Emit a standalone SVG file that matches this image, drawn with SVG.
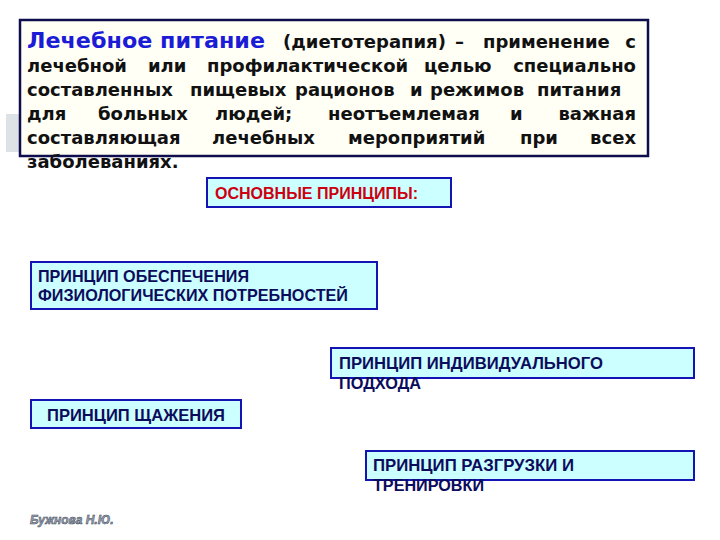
<svg xmlns="http://www.w3.org/2000/svg" width="720" height="540" viewBox="0 0 720 540">
<style>
.body{font-family:"DejaVu Sans",Verdana,sans-serif;font-weight:bold;font-size:18px;fill:#111111}
.title{font-family:"DejaVu Sans",Verdana,sans-serif;font-weight:bold;font-size:21px;fill:#1c1cd6}
.pbox{fill:#ccffff;stroke:#1414b4;stroke-width:2}
.ptext{font-family:"Liberation Sans",Arial,sans-serif;font-weight:bold;font-size:16.5px;fill:#0c0c5c}
.head{font-family:"Liberation Sans",Arial,sans-serif;font-weight:bold;font-size:16px;fill:#cc0010}
.author{font-family:"Liberation Sans",Arial,sans-serif;font-style:italic;font-weight:bold;font-size:12px;fill:#9aa4b4;stroke:#3a4454;stroke-width:0.5}
</style>
<rect width="720" height="540" fill="#ffffff"/>
<rect x="6" y="114" width="15" height="38" fill="#dde2e6"/>
<g id="definition">
<rect x="20" y="20" width="628" height="136" fill="#fffff6" stroke="#0e0e4e" stroke-width="2.5"/>
<text class="title" x="27" y="48" textLength="238" lengthAdjust="spacingAndGlyphs">Лечебное питание</text>
<text class="body" y="48"><tspan x="283">(диетотерапия)</tspan><tspan x="455">–</tspan><tspan x="483">применение</tspan><tspan x="636" text-anchor="end">с</tspan></text>
<text class="body" y="72"><tspan x="27">лечебной</tspan><tspan x="148">или</tspan><tspan x="207">профилактической</tspan><tspan x="424">целью</tspan><tspan x="636" text-anchor="end">специально</tspan></text>
<text class="body" y="96"><tspan x="27">составленных</tspan><tspan x="190">пищевых</tspan><tspan x="295">рационов</tspan><tspan x="410">и</tspan><tspan x="430">режимов</tspan><tspan x="537">питания</tspan></text>
<text class="body" y="120"><tspan x="27">для</tspan><tspan x="98">больных</tspan><tspan x="215">людей;</tspan><tspan x="328">неотъемлемая</tspan><tspan x="510">и</tspan><tspan x="636" text-anchor="end">важная</tspan></text>
<text class="body" y="144"><tspan x="27">составляющая</tspan><tspan x="212">лечебных</tspan><tspan x="348">мероприятий</tspan><tspan x="520">при</tspan><tspan x="636" text-anchor="end">всех</tspan></text>
<text class="body" x="27" y="168">заболеваниях.</text>
</g>
<g id="principles-head">
<rect class="pbox" x="207" y="178" width="244" height="29"/>
<text class="head" x="215" y="199" textLength="203" lengthAdjust="spacingAndGlyphs">ОСНОВНЫЕ ПРИНЦИПЫ:</text>
</g>
<g id="p-physio">
<rect class="pbox" x="31" y="262" width="346" height="47"/>
<text class="ptext" x="38" y="282" textLength="211" lengthAdjust="spacingAndGlyphs">ПРИНЦИП ОБЕСПЕЧЕНИЯ</text>
<text class="ptext" x="38" y="301" textLength="310" lengthAdjust="spacingAndGlyphs">ФИЗИОЛОГИЧЕСКИХ ПОТРЕБНОСТЕЙ</text>
</g>
<g id="p-individual">
<rect class="pbox" x="331" y="348" width="363" height="30"/>
<text class="ptext" x="339" y="369" textLength="264" lengthAdjust="spacingAndGlyphs">ПРИНЦИП ИНДИВИДУАЛЬНОГО</text>
<text class="ptext" x="339" y="389" textLength="82" lengthAdjust="spacingAndGlyphs">ПОДХОДА</text>
</g>
<g id="p-sparing">
<rect class="pbox" x="31" y="400" width="210" height="28"/>
<text class="ptext" x="47" y="421" textLength="178" lengthAdjust="spacingAndGlyphs">ПРИНЦИП ЩАЖЕНИЯ</text>
</g>
<g id="p-unload">
<rect class="pbox" x="366" y="451" width="328" height="29"/>
<text class="ptext" x="373" y="471" textLength="201" lengthAdjust="spacingAndGlyphs">ПРИНЦИП РАЗГРУЗКИ И</text>
<text class="ptext" x="373" y="491" textLength="111" lengthAdjust="spacingAndGlyphs">ТРЕНИРОВКИ</text>
</g>
<g id="connectors"></g>
<text class="author" x="30" y="524">Бужнова Н.Ю.</text>
</svg>
